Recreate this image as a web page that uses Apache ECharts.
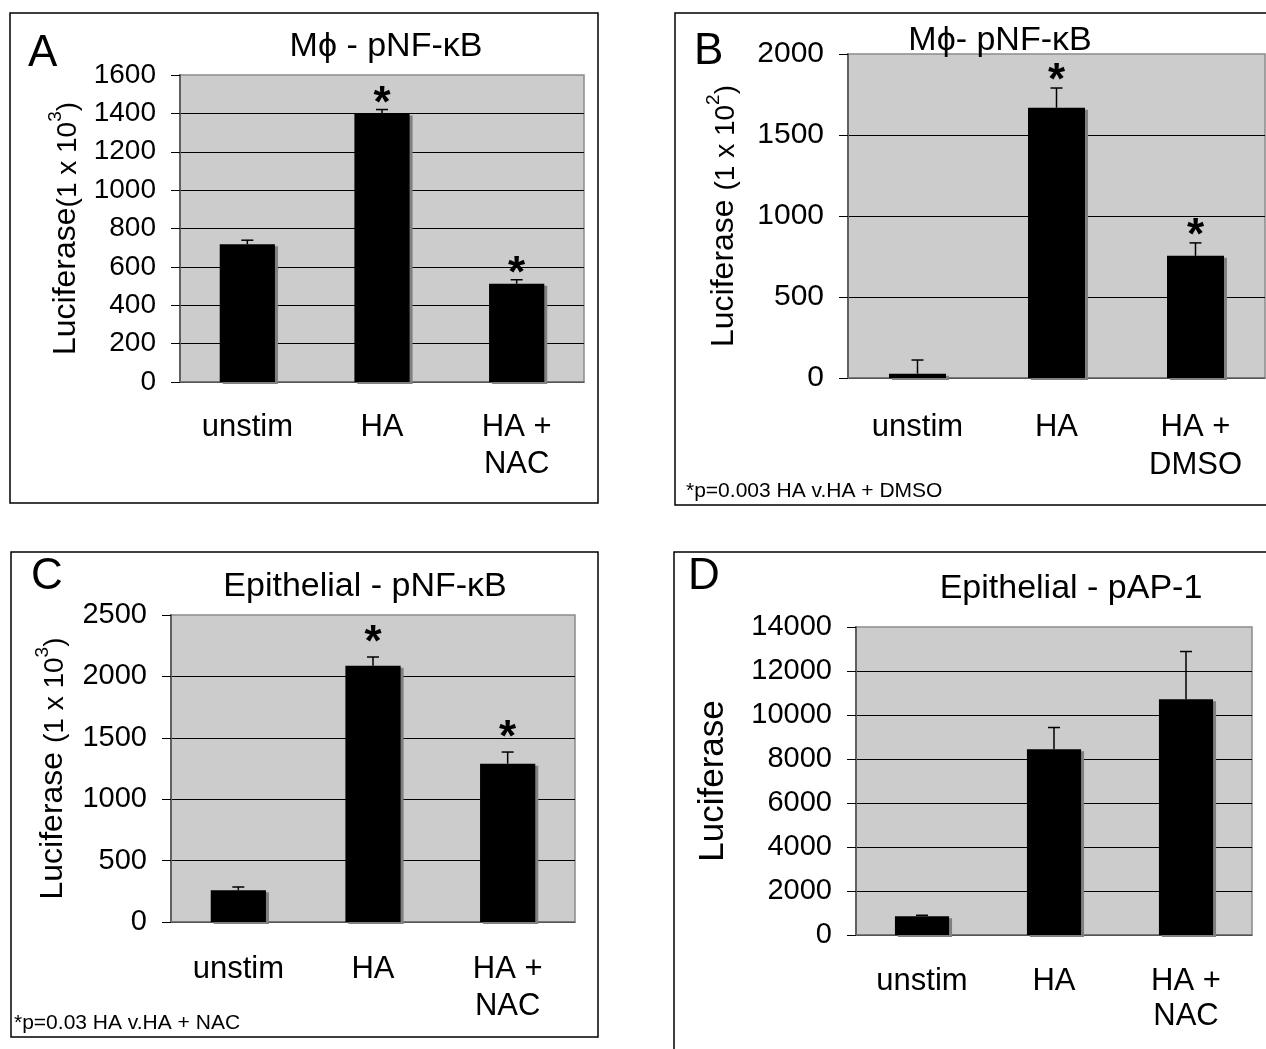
<!DOCTYPE html>
<html><head><meta charset="utf-8">
<script src="https://cdn.jsdelivr.net/npm/echarts@6/dist/echarts.min.js"></script>
<style>html,body{margin:0;padding:0;background:#fff}#c{width:1266px;height:1049px}</style>
</head><body><div id="c"></div>
<script>
// ---- data ----
const catsNAC = ['unstim', 'HA', 'HA +\nNAC'];
const catsDMSO = ['unstim', 'HA', 'HA +\nDMSO'];

const valuesA = [718, 1399, 512];
const errorsA = [21, 21, 21];
const starsA = [0, 1, 1];

const valuesB = [27, 1668, 754];
const errorsB = [84, 122, 80];
const starsB = [0, 1, 1];

const valuesC = [258, 2087, 1289];
const errorsC = [27, 71, 95];
const starsC = [0, 1, 1];

const valuesD = [850, 8442, 10720];
const errorsD = [46, 989, 2165];
const starsD = [0, 0, 0];

const yMaxA = 1600, yStepA = 200;
const yMaxB = 2000, yStepB = 500;
const yMaxC = 2500, yStepC = 500;
const yMaxD = 14000, yStepD = 2000;

const titleA = 'M\u03d5 - pNF-\u03baB';
const titleB = 'M\u03d5- pNF-\u03baB';
const titleC = 'Epithelial - pNF-\u03baB';
const titleD = 'Epithelial - pAP-1';
const noteB = '*p=0.003 HA v.HA + DMSO';
const noteC = '*p=0.03 HA v.HA + NAC';

// ---- layout / style ----
const FONT = '"Liberation Sans", Arial, Helvetica, sans-serif';
const panels = [
  {cats: catsNAC, vals: valuesA, errs: errorsA, stars: starsA, max: yMaxA, step: yStepA,
   grid: {left: 180, top: 75, width: 404, height: 307}, tick: 28, xm: 27, lh: 37,
   name: '{a|Luciferase}{b|(1 x 10}{c|3}{b|)}', gap: 98, starOff: 15},
  {cats: catsDMSO, vals: valuesB, errs: errorsB, stars: starsB, max: yMaxB, step: yStepB,
   grid: {left: 848, top: 54, width: 417, height: 324}, tick: 30, xm: 30, lh: 38,
   name: '{a|Luciferase }{b|(1 x 10}{c|2}{b|)}', gap: 108, starOff: 16},
  {cats: catsNAC, vals: valuesC, errs: errorsC, stars: starsC, max: yMaxC, step: yStepC,
   grid: {left: 171, top: 615, width: 404, height: 307}, tick: 29, xm: 29, lh: 37,
   name: '{a|Luciferase }{b|(1 x 10}{c|3}{b|)}', gap: 102, starOff: 23},
  {cats: catsNAC, vals: valuesD, errs: errorsD, stars: starsD, max: yMaxD, step: yStepD,
   grid: {left: 856, top: 627, width: 396, height: 308}, tick: 29, xm: 29, lh: 35,
   name: '{d|Luciferase}', gap: 124, starOff: 18}
];

function renderErr(params, api) {
  const x = api.value(0), v = api.value(1), e = api.value(2);
  const p0 = api.coord([x, v]);
  const p1 = api.coord([x, v + e]);
  return {type: 'group', children: [
    {type: 'line', shape: {x1: p0[0], y1: p0[1], x2: p1[0], y2: p1[1]}, style: {stroke: '#000', lineWidth: 1.5}},
    {type: 'line', shape: {x1: p1[0] - 6, y1: p1[1], x2: p1[0] + 6, y2: p1[1]}, style: {stroke: '#000', lineWidth: 1.5}}
  ]};
}
function makeStar(off) {
  return function (params, api) {
    const p = api.coord([api.value(0), api.value(1)]);
    return {type: 'text', x: p[0], y: p[1] - off + 10,
      style: {text: '*', font: 'bold 44px ' + FONT, fill: '#000', align: 'center', verticalAlign: 'middle'}};
  };
}

const grid = [], xAxis = [], yAxis = [], series = [];
panels.forEach((p, i) => {
  grid.push(Object.assign({show: true, backgroundColor: '#cccccc', borderColor: '#8a8a8a', borderWidth: 1.5}, p.grid));
  xAxis.push({type: 'category', gridIndex: i, data: p.cats,
    axisLine: {lineStyle: {color: '#707070', width: 1.5}},
    axisTick: {length: 9, lineStyle: {color: '#333', width: 1.2}},
    axisLabel: {color: '#000', fontFamily: FONT, fontSize: 31, lineHeight: p.lh, margin: p.xm, interval: 0}
  });
  yAxis.push({type: 'value', gridIndex: i, min: 0, max: p.max, interval: p.step,
    axisLine: {show: true, lineStyle: {color: '#606060', width: 2}},
    axisTick: {show: true, length: 9, lineStyle: {color: '#000', width: 1}},
    axisLabel: {color: '#000', fontFamily: FONT, fontSize: p.tick, margin: 24, formatter: v => String(v)},
    splitLine: {show: true, showMaxLine: false, lineStyle: {color: '#000', width: 1}},
    name: p.name, nameLocation: 'middle', nameRotate: 90, nameGap: p.gap,
    nameTextStyle: {color: '#000', fontFamily: FONT, rich: {
      a: {fontSize: 32, fontFamily: FONT, color: '#000', verticalAlign: 'bottom', lineHeight: 36},
      b: {fontSize: 28, fontFamily: FONT, color: '#000', verticalAlign: 'bottom', lineHeight: 36},
      c: {fontSize: 19, fontFamily: FONT, color: '#000', verticalAlign: 'top', lineHeight: 36, padding: [0, 0, 0, 0]},
      d: {fontSize: 35, fontFamily: FONT, color: '#000', lineHeight: 38}
    }}
  });
  series.push({type: 'bar', xAxisIndex: i, yAxisIndex: i, data: p.vals, barWidth: '41%',
    itemStyle: {color: '#000', shadowColor: '#808080', shadowBlur: 0, shadowOffsetX: 3, shadowOffsetY: 2},
    silent: true, z: 2});
  series.push({type: 'custom', xAxisIndex: i, yAxisIndex: i, renderItem: renderErr,
    data: p.vals.map((v, k) => [k, v, p.errs[k]]), z: 3, silent: true});
  const sd = [];
  p.vals.forEach((v, k) => { if (p.stars[k]) sd.push([k, v + p.errs[k]]); });
  series.push({type: 'custom', xAxisIndex: i, yAxisIndex: i, renderItem: makeStar(p.starOff),
    data: sd, z: 4, silent: true, clip: false});
});

function txt(x, y, text, size, align) {
  return {type: 'text', x: x, y: y, z: 10,
    style: {text: text, font: size + 'px ' + FONT, fill: '#000', align: align || 'center', verticalAlign: 'middle'}};
}
function box(x, y, w, h) {
  return {type: 'rect', shape: {x: x, y: y, width: w, height: h}, z: 10,
    style: {fill: 'none', stroke: '#000', lineWidth: 1.5}};
}

const graphic = [
  box(10, 13, 588, 490), box(675, 13, 700, 492), box(11, 552, 587, 485), box(674, 552, 700, 600),
  txt(28, 54, 'A', 44, 'left'), txt(694, 52, 'B', 44, 'left'), txt(31, 577, 'C', 44, 'left'), txt(688, 577, 'D', 44, 'left'),
  txt(386, 47, titleA, 34), txt(1000, 41, titleB, 34), txt(365, 587, titleC, 34), txt(1071, 589, titleD, 34),
  txt(686, 491, noteB, 21, 'left'), txt(14, 1023, noteC, 21, 'left')
];

const chart = echarts.init(document.getElementById('c'), null, {renderer: 'canvas'});
chart.setOption({animation: false, backgroundColor: '#fff', grid, xAxis, yAxis, series, graphic});
</script></body></html>
